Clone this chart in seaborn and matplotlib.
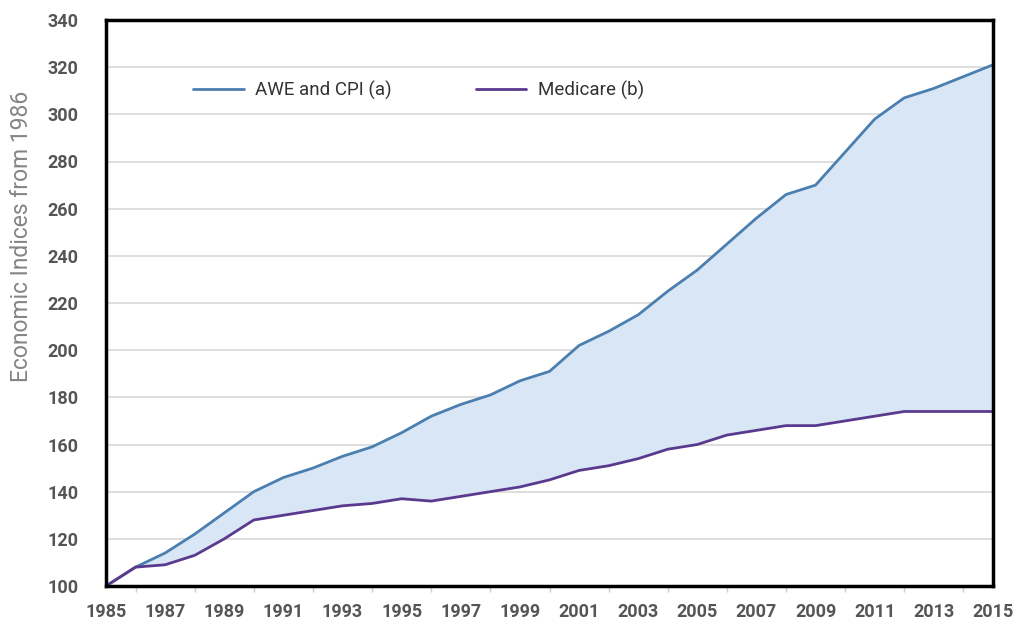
import matplotlib
matplotlib.use("Agg")
import matplotlib.pyplot as plt
import seaborn as sns
import pandas as pd
import numpy as np

years = list(range(1985, 2016))
awe_cpi = [100, 108, 114, 122, 131, 140, 146, 150, 155, 159, 165, 172, 177, 181, 187, 191,
           202, 208, 215, 225, 234, 245, 256, 266, 270, 284, 298, 307, 311, 316, 321]
medicare = [100, 108, 109, 113, 120, 128, 130, 132, 134, 135, 137, 136, 138, 140, 142, 145,
            149, 151, 154, 158, 160, 164, 166, 168, 168, 170, 172, 174, 174, 174, 174]
series_names = ["AWE and CPI (a)", "Medicare (b)"]
y_ticks = list(range(100, 341, 20))
x_ticks = list(range(1985, 2016, 2))

sns.set_theme(style="white")
plt.rcParams['font.family'] = ['Roboto', 'DejaVu Sans']

df = pd.DataFrame({"year": years * 2,
                   "value": awe_cpi + medicare,
                   "series": [series_names[0]] * len(years) + [series_names[1]] * len(years)})

fig = plt.figure(figsize=(10.13, 6.19), dpi=100)
ax = fig.add_axes([106/1013, 1 - 586/619, (993-106)/1013, (586-20)/619])

ax.fill_between(years, medicare, awe_cpi, color="#d8e6f6", zorder=1, linewidth=0)
sns.lineplot(data=df, x="year", y="value", hue="series",
             palette={series_names[0]: "#4b7faf", series_names[1]: "#5a3a8e"},
             linewidth=2, ax=ax, zorder=3)

ax.set_xlim(1985, 2015)
ax.set_ylim(100, 340)
ax.set_yticks(y_ticks)
ax.set_xticks(x_ticks)
ax.set_xticks(years, minor=True)
ax.yaxis.grid(True, color="#dedede", linewidth=1.4, zorder=0)
ax.set_axisbelow(True)

for lab in ax.get_xticklabels() + ax.get_yticklabels():
    lab.set_fontweight("bold")
    lab.set_color("#555555")
    lab.set_fontsize(13)
ax.tick_params(axis="y", which="major", length=0, pad=20)
ax.tick_params(axis="x", which="major", length=4, pad=8, color="#cccccc", width=1)
ax.tick_params(axis="x", which="minor", length=4, color="#cccccc", width=1, bottom=True)

ax.set_xlabel("")
ax.set_ylabel("Economic Indices from 1986", fontsize=16.5, color="#858585",
              fontweight="normal")
ax.yaxis.set_label_coords(-0.082, 0.617)

for sp in ax.spines.values():
    sp.set_visible(True)
    sp.set_color("black")
    sp.set_linewidth(2.5)
    sp.set_zorder(5)

leg = ax.legend(loc="center left", bbox_to_anchor=(0.098, 0.876), ncol=2, frameon=False,
                fontsize=13.5, handlelength=2.7, handletextpad=0.6, columnspacing=4.5,
                borderpad=0, borderaxespad=0)
for t in leg.get_texts():
    t.set_color("#333333")

fig.savefig("out.png", dpi=100, facecolor="white")
